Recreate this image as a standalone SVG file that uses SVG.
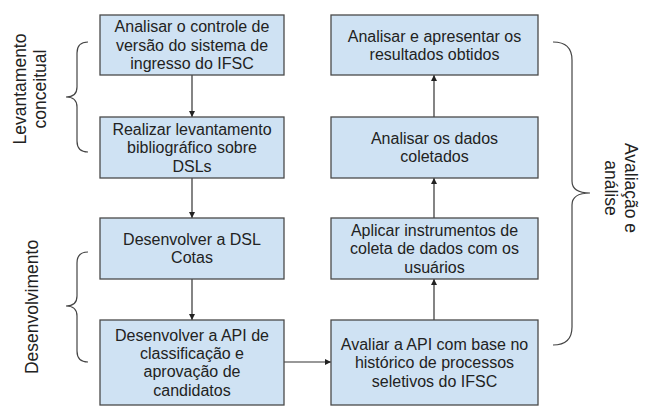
<svg xmlns="http://www.w3.org/2000/svg" width="656" height="415" viewBox="0 0 656 415">
<style>
.box{fill:#cfe2f3;stroke:#4a4a4a;stroke-width:1.3}
.t{font-family:"Liberation Sans",Arial,sans-serif;font-size:16px;fill:#222;text-anchor:middle}
.side{font-family:"Liberation Sans",Arial,sans-serif;font-size:17.5px;fill:#222;text-anchor:middle}
.con{stroke:#333;stroke-width:1.2;fill:none;marker-end:url(#ah)}
.brace{stroke:#444;stroke-width:1.2;fill:none}
</style>
<defs>
<marker id="ah" viewBox="0 0 10 10" refX="10" refY="5" markerWidth="6" markerHeight="6" orient="auto" markerUnits="userSpaceOnUse">
<path d="M0,0 L10,5 L0,10 z" fill="#222"/>
</marker>
</defs>
<rect width="656" height="415" fill="#fff"/>
<g id="connectors">
<line class="con" x1="192" y1="75" x2="192" y2="117"/>
<line class="con" x1="192" y1="178" x2="192" y2="218"/>
<line class="con" x1="192" y1="279" x2="192" y2="320"/>
<line class="con" x1="284" y1="362" x2="331" y2="362"/>
<line class="con" x1="434" y1="320" x2="434" y2="279"/>
<line class="con" x1="434" y1="218" x2="434" y2="178"/>
<line class="con" x1="434" y1="117" x2="434" y2="75"/>
</g>
<g id="n1">
<rect class="box" x="100" y="15" width="184" height="60"/>
<text class="t" x="192" y="32.3">Analisar o controle de</text>
<text class="t" x="192" y="50.7">versão do sistema de</text>
<text class="t" x="192" y="69.1">ingresso do IFSC</text>
</g>
<g id="n2">
<rect class="box" x="100" y="117" width="184" height="61"/>
<text class="t" x="192" y="134.8">Realizar levantamento</text>
<text class="t" x="192" y="153.2">bibliográfico sobre</text>
<text class="t" x="192" y="171.6">DSLs</text>
</g>
<g id="n3">
<rect class="box" x="100" y="218" width="184" height="61"/>
<text class="t" x="192" y="245">Desenvolver a DSL</text>
<text class="t" x="192" y="263.4">Cotas</text>
</g>
<g id="n4">
<rect class="box" x="100" y="320" width="184" height="85"/>
<text class="t" x="192" y="340.6">Desenvolver a API de</text>
<text class="t" x="192" y="359">classificação e</text>
<text class="t" x="192" y="377.4">aprovação de</text>
<text class="t" x="192" y="395.8">candidatos</text>
</g>
<g id="n5">
<rect class="box" x="331" y="320" width="207" height="85"/>
<text class="t" x="434.5" y="349.8">Avaliar a API com base no</text>
<text class="t" x="434.5" y="368.2">histórico de processos</text>
<text class="t" x="434.5" y="386.6">seletivos do IFSC</text>
</g>
<g id="n6">
<rect class="box" x="331" y="218" width="207" height="61"/>
<text class="t" x="434.5" y="235.8">Aplicar instrumentos de</text>
<text class="t" x="434.5" y="254.2">coleta de dados com os</text>
<text class="t" x="434.5" y="272.6">usuários</text>
</g>
<g id="n7">
<rect class="box" x="331" y="117" width="207" height="61"/>
<text class="t" x="434.5" y="144">Analisar os dados</text>
<text class="t" x="434.5" y="162.4">coletados</text>
</g>
<g id="n8">
<rect class="box" x="331" y="15" width="207" height="60"/>
<text class="t" x="434.5" y="41.5">Analisar e apresentar os</text>
<text class="t" x="434.5" y="59.9">resultados obtidos</text>
</g>
<g id="g-levantamento">
<path class="brace" d="M88,42 Q77,42 77,53 L77,87 Q77,97 66,97 Q77,97 77,107 L77,141 Q77,152 88,152"/>
<text class="side" transform="translate(26,89) rotate(-90)">Levantamento</text>
<text class="side" transform="translate(46,89) rotate(-90)">conceitual</text>
</g>
<g id="g-desenvolvimento">
<path class="brace" d="M88,252 Q77,252 77,263 L77,296 Q77,306 66,306 Q77,306 77,316 L77,351 Q77,362 88,362"/>
<text class="side" transform="translate(38,307) rotate(-90)">Desenvolvimento</text>
</g>
<g id="g-avaliacao">
<path class="brace" d="M553,42 Q572,42 572,60 L572,181 Q572,193 590,193 Q572,193 572,205 L572,327 Q572,345 553,345"/>
<text class="side" transform="translate(625,188) rotate(90)">Avaliação e</text>
<text class="side" transform="translate(605,188) rotate(90)">análise</text>
</g>
</svg>
